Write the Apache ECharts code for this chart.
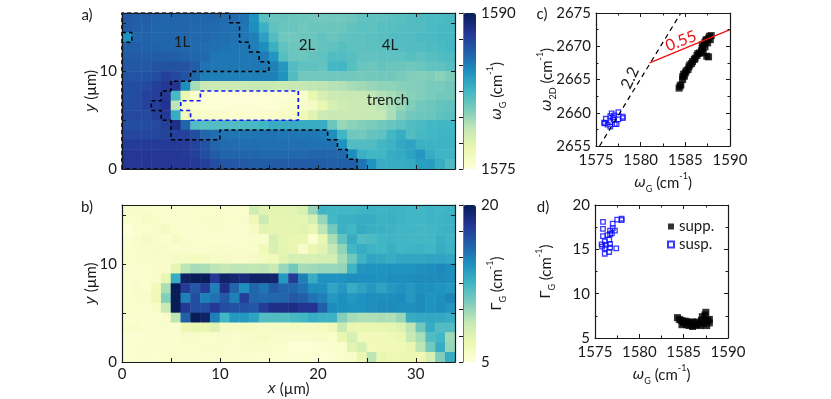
<!DOCTYPE html>
<html><head><meta charset="utf-8">
<script src="https://cdn.jsdelivr.net/npm/echarts@6/dist/echarts.min.js"></script>
<style>html,body{margin:0;padding:0;background:#fff}#c{width:831px;height:399px}</style>
</head><body><div id="c"></div>
<script>
// Panel a: omega_G (cm-1), rows from y=15 (top) down to y=0, 34 columns
const omegaRows = [
[1586.5,1586.3,1586.3,1586.1,1586,1586,1586,1586,1586,1586,1585.8,1585.8,1585.5,1584.2,1581.7,1581.3,1581.4,1581.3,1581.2,1581.1,1581,1581,1581,1581.2,1581.5,1581.5,1581.6,1581.7,1581.8,1582,1582.1,1582.2,1582.2,1582.3],
[1586.4,1586.2,1586.1,1586,1586,1586,1586,1585.9,1585.9,1585.8,1585.7,1585.6,1585.3,1584.5,1582.8,1581.6,1581.3,1581.3,1581,1581.3,1581.2,1581.3,1581.2,1581.5,1581.7,1581.6,1581.8,1581.8,1581.9,1582,1582,1582.2,1582.3,1582.3],
[1584.3,1586,1586.1,1586,1586,1586,1586,1585.9,1585.9,1585.7,1585.6,1585.5,1585.3,1585,1583.6,1581.9,1581.1,1581,1581.2,1581.2,1581.5,1581.3,1581.5,1581.6,1581.6,1581.7,1581.8,1582,1582,1582,1582.2,1582.2,1582.3,1582.3],
[1586.2,1586.2,1586.1,1586.1,1586,1586,1585.9,1585.8,1585.7,1585.6,1585.5,1585.4,1585.3,1585,1584.5,1582.8,1581.5,1581.2,1581.2,1581.2,1581.4,1581.6,1581.8,1581.6,1581.6,1581.7,1581.7,1581.8,1581.9,1582,1582,1582.1,1582.2,1582.4],
[1586.4,1586.4,1586.3,1586.4,1586.3,1586.2,1586.1,1586,1585.8,1585.4,1585.3,1585.3,1585.3,1585.3,1585.2,1584.1,1581.8,1581.3,1581.2,1581.4,1581.6,1582,1582,1581.8,1581.5,1581.5,1581.6,1581.6,1581.6,1581.8,1581.6,1581.8,1582,1582.1],
[1586.5,1586.5,1586.5,1586.7,1586.8,1586.8,1586.8,1586.3,1585.5,1585.3,1585.3,1585.3,1585.3,1585.3,1585.3,1585,1584,1582,1581.6,1581.6,1581.4,1582.4,1582.5,1581.8,1581.3,1581.2,1581.4,1581.3,1581.2,1581.1,1581.3,1581.5,1581.6,1581.8],
[1586.7,1586.7,1586.8,1587,1587.6,1587.2,1586.7,1586,1585.1,1585,1585,1585,1585,1585,1585,1585,1584.2,1582,1581,1581,1581,1581.1,1581,1581,1580.9,1581,1581,1581,1580.8,1580.6,1580.5,1580.6,1580.3,1580.7],
[1587,1587,1587.2,1587.6,1588,1588.2,1584.5,1579.6,1578.6,1578.5,1578.5,1578.5,1578.6,1578.7,1578.7,1578.6,1578.6,1578.7,1578.8,1578.9,1579,1579.2,1579.3,1579.6,1579.8,1580,1580.2,1580.2,1580.4,1580.5,1580.6,1580.8,1580.8,1581],
[1587,1587.1,1587.5,1587.7,1588,1582.3,1577,1575.6,1575.3,1575.3,1575.2,1575.2,1575.2,1575.2,1575.3,1575.3,1575.3,1575.4,1575.6,1577,1578,1578.5,1578.6,1578.7,1578.7,1578.9,1579.3,1579.6,1580,1580.4,1580.6,1580.8,1581,1581],
[1587,1587.1,1587.5,1587.7,1588.3,1579,1576,1575.5,1575.3,1575.3,1575.2,1575.2,1575.2,1575.2,1575.2,1575.3,1575.5,1575.6,1575.7,1576,1577,1578,1578.4,1578.6,1578.6,1578.7,1579,1579.5,1580,1580.6,1581,1581.2,1581.4,1581.5],
[1587.2,1587.2,1587.2,1587.7,1588,1583,1576.5,1576,1575.8,1575.7,1575.6,1575.5,1575.5,1575.5,1575.6,1575.7,1575.9,1576,1576.5,1577.5,1578.5,1578.7,1578.7,1578.6,1578.7,1578.7,1578.8,1579.5,1580.5,1581,1581.2,1581.3,1581.6,1581.7],
[1587,1587,1587,1587.2,1587.6,1588.5,1586,1582,1581.8,1581.9,1582,1582,1582.2,1582.3,1582.5,1583,1583,1583.1,1583,1583,1583,1581.2,1580,1580.3,1580.5,1580.8,1581,1581.3,1581.6,1582,1582.2,1582.4,1582.5,1582.5],
[1587.3,1587.3,1587.3,1587.3,1587.4,1587.5,1587.5,1587,1586,1585.7,1585.5,1585.4,1585.4,1585.4,1585.5,1585.5,1585.4,1585.4,1585.4,1585.4,1585.2,1584.5,1582.5,1581.1,1581,1581.4,1581.6,1582.5,1583,1582,1582.3,1582.5,1582.6,1582.6],
[1587.8,1587.8,1587.9,1587.9,1587.9,1587.9,1587.8,1587.4,1586.8,1586,1585.8,1585.7,1585.7,1585.7,1585.6,1585.6,1585.6,1585.6,1585.6,1585.5,1585.5,1585.5,1584.3,1582,1582,1582,1582.5,1582.7,1583.2,1583.5,1582.8,1582.7,1582.7,1582.6],
[1588,1588,1588,1588,1588,1588,1587.9,1587.6,1587,1586.4,1586,1586,1586,1586,1585.9,1585.9,1585.9,1585.9,1585.9,1586,1586,1586,1585.9,1584.5,1582.8,1582.5,1582.5,1583,1583.1,1583.5,1584,1583,1582.6,1582.6],
[1588,1588,1588,1588,1588,1588,1588,1587.9,1587.7,1587,1586.6,1586.5,1586.5,1586.4,1586.4,1586.4,1586.4,1586.4,1586.4,1586.4,1586.3,1586.2,1586.2,1586.2,1585.5,1584.2,1583,1583,1583,1583.1,1583.8,1583.8,1583,1582.1]
];
// Panel b: Gamma_G (cm-1), rows from y=15 (top) down to y=0
const gammaRows = [
[5.6,5.7,5.6,5.5,5.5,5.5,5.5,5.6,5.6,5.6,5.6,5.5,5.6,8.4,7.5,7.3,7.3,7.4,7.8,10,12.6,12.5,12.5,12.4,12.6,12.7,12.6,12.7,12.6,12.5,12.5,12.6,12.5,12.6],
[5.6,5.6,6,5.8,5.5,5.5,5.5,5.6,5.7,5.8,5.6,5.6,5.7,6.6,8.5,7.2,7.2,7.3,7.2,8,10,12.4,12.8,12.8,13,13,12.7,12.8,12.6,12.5,12.5,12.6,12.6,12.7],
[5,5.5,5.6,5.7,6.1,5.6,5.5,5.5,5.6,5.7,5.6,5.5,5.5,5.9,7.3,7.2,7.2,7.2,7.4,7,9,11,12.8,12.5,13.1,12.8,12.8,12.7,12.5,12.5,12.4,12.5,12.6,12.7],
[5.4,5.6,6,5.7,5.5,6,5.6,5.5,5.6,5.5,5.5,5.5,5.5,5.6,5.6,8,7.2,7,7,5.4,7,9.5,11.5,13,12,12.2,12.5,12.6,12.5,12.4,12.4,12.4,12.8,12.6],
[5.5,5.6,5.7,5.9,5.8,5.6,5.7,5.6,5.6,5.8,5.7,5.6,5.6,5.7,6.5,7.9,7.3,7.1,5.7,6.9,7.5,8.8,10.2,12.5,13,12.6,12.5,12.8,12.5,12.6,12.7,12.5,13,12.7],
[5.6,5.6,5.7,5.7,5.7,6,6,6.2,6.1,5.9,6,5.8,5.8,6,6.2,6.4,7.4,8,8,7.9,8,8.1,9.6,11,12.6,13.4,13.2,13,13.3,13.3,13.3,13.4,13.4,13.3],
[5.5,5.5,5.6,5.7,5.8,7.2,9,9.6,9.5,9,8.8,9,9,8.9,9,8.6,10,11,9.7,9.8,10,10,10.1,12.6,14.1,14.2,14.2,14.3,14.3,14.2,14.4,14.5,14.7,14.4],
[5.5,5.6,5.5,5.7,7,13,19.6,20,20,18,19.5,19.2,19,19.6,19.5,19.4,14,17.9,15,13,14.3,14.3,14.3,14.5,14.4,14.4,14.3,14.5,14.4,14.5,14.6,14.6,14.6,14.5],
[5.5,5.7,5.5,6.5,9.5,20,17.8,16.5,17.8,15,18.5,16,14.5,16,15.4,16.5,16,16,15.5,14.5,14.4,13.4,14,13,13.5,14,13.5,14,14.3,14,14.4,14.4,14.2,14],
[5.5,5.6,5.8,6.5,10.5,20,15,17,15,15.5,16.5,15,17.7,16,15.8,16,16,16.5,16.2,15.5,15,14,14.4,14,14.3,14.5,14.5,14.5,14.6,14,14.6,14.2,14.4,14.8],
[5.5,5.6,5.6,5.9,8.6,20,18,17,17,18,17,16.8,16.8,16.6,17.8,18.5,18.6,18.7,18.2,18.2,16.2,14.6,14.4,14.3,14.3,14.5,14.6,14.6,14.4,14.5,14.6,14.3,14.5,14.1],
[5.4,5.5,5.5,5.5,5.7,9,16.2,20,19.5,15,12.5,14,14,13.5,12,12,12,12.3,12.5,13,12.7,12.7,10.5,9.6,9.4,9.4,9.5,9.4,10,13,13.2,13.3,13.2,13],
[5.6,5.7,5.5,5.5,5.6,5.5,6.8,7,7,7.5,6,6,6.1,6,6,6,6,6.1,6,6,6.2,6.6,8.6,7,6.9,7,7,7.2,7.6,9,11,13,12,12],
[5.4,5.4,5.5,5.5,5.5,5.5,5.7,5.8,5.6,5.6,5.7,5.6,5.7,5.9,6,5.8,5.7,5.7,5.7,5.7,5.9,5.6,7,8,6.4,6.5,6.6,6.7,6.9,8.6,9.5,12,12.5,9.8],
[5.4,5.5,5.5,5.6,5.5,5.6,5.6,5.6,5.7,5.7,5.6,5.5,5.8,5.8,5.7,5.6,5.6,5.3,5.3,5.3,5.4,5.5,5.6,7.4,8,6.4,6.6,6.5,6.7,7,9,11,13,10],
[5.4,5.5,5.5,5.4,5.6,5.6,5.5,5.5,5.5,5.6,5.6,5.5,5.5,5.5,5.4,5.4,5.4,5.4,5.4,5.4,5.3,5.4,5.6,5.7,7,9,7,6.8,6.8,6.9,6.7,8,10.6,13]
];
const xTickLabels = [0,10,20,30];
const yTickLabels = [0,10];
const ylGnBu = ['#ffffd9','#edf8b1','#c7e9b4','#7fcdbb','#41b6c4','#1d91c0','#225ea8','#253494','#081d58'];
// dashed outlines in micrometres
const boundary1L = [[0,0],[0,16],[11,16],[11,15],[12,15],[12,13],[13,13],[13,12],[14,12],[14,11],[15,11],[15,10],[7,10],[7,9],[5,9],[5,8],[4,8],[4,7],[3,7],[3,6],[4,6],[4,5],[5,5],[5,3],[10,3],[10,4],[21,4],[21,3],[22,3],[22,2],[23,2],[23,1],[24,1],[24,0],[0,0]];
const boundaryIsland = [[0,14],[1,14],[1,13],[0,13]];
const boundaryTrench = [[8,8],[18,8],[18,5],[7,5],[7,6],[6,6],[6,7],[8,7],[8,8]];
// Panel c points: [omega_G, omega_2D]
const c_supp = [[1584.3,2663.7],[1584.4,2664],[1584.5,2664.2],[1584.7,2665],[1584.7,2665.4],[1584.8,2665.8],[1584.9,2665.5],[1585,2666],[1585.1,2666.3],[1585.3,2666.5],[1585.4,2666.9],[1585.5,2667.2],[1585.7,2667.4],[1585.8,2667.7],[1586,2668],[1586.1,2668.2],[1586.3,2668.6],[1586.4,2668.9],[1586.6,2669],[1586.8,2669.3],[1586.9,2669.7],[1586.9,2670.2],[1587.1,2670.3],[1587.2,2670.6],[1587.3,2670.9],[1587.4,2671],[1587.6,2671.2],[1587.7,2671.5],[1587.9,2671.6],[1587.8,2671],[1587.5,2670.5],[1587.2,2669.9],[1587,2669],[1587.4,2668.5],[1587.6,2668.4]];
const c_susp = [[1576,2658.4],[1576.1,2659.1],[1576.6,2659.5],[1576.75,2659.9],[1577.5,2660.1],[1578,2659.4],[1577.5,2659],[1577,2659],[1576.6,2658.6],[1577.1,2658.3],[1576.6,2657.9],[1577.3,2658.3],[1576.3,2658.2],[1576.9,2659.3],[1577.05,2659.6],[1575.9,2658.5],[1578,2659.2]];
const slope22 = [[1575.4,2655],[1584.5,2675]];
const slope055 = [[1581,2667.5],[1590,2672.5]];
// Panel d points: [omega_G, Gamma_G]
const d_supp = [[1584.3,7.3],[1584.5,7.1],[1584.7,7],[1584.9,6.9],[1585,6.7],[1584.8,6.5],[1585.2,6.9],[1585.3,6.5],[1585.5,6.8],[1585.6,6.4],[1585.8,6.7],[1586,6.3],[1586,6.8],[1586.2,6.4],[1586.4,6.8],[1586.5,6.5],[1586.7,6.7],[1586.9,6.4],[1587,7],[1587.1,7.4],[1587.2,6.6],[1587.4,7.6],[1587.5,7.9],[1587.6,6.4],[1587.7,7],[1587.9,6.7],[1587.9,7.1],[1587.5,7]];
const d_susp = [[1575.9,18.1],[1575.9,17.3],[1575.9,16.5],[1575.75,15.55],[1575.8,15.3],[1576.1,15.9],[1576.1,15.1],[1576.1,14.5],[1576.4,16.6],[1576.2,15.5],[1576.6,16.1],[1576.7,16.7],[1576.7,17.1],[1576.7,15.6],[1576.6,14.7],[1576.7,15.2],[1577,17.4],[1577,17.9],[1577.25,17.1],[1577.4,15.1],[1577.5,18.35],[1578,18.3],[1578,18.45],[1576.9,16.8]];

const FONT = "Lato, 'Open Sans', 'DejaVu Sans', sans-serif";
const INK = '#1a1a1a';
const FS = 15;
const rich = {
  t:{fontFamily:FONT,fontSize:FS,color:INK,lineHeight:22,verticalAlign:'middle'},
  i:{fontFamily:'"DejaVu Sans", sans-serif',fontStyle:'italic',fontSize:FS-1,color:INK,lineHeight:22,verticalAlign:'middle'},
  g:{fontFamily:'"DejaVu Sans", sans-serif',fontSize:FS-1,color:INK,lineHeight:22,verticalAlign:'middle'},
  s:{fontFamily:FONT,fontSize:9,color:INK,lineHeight:22,verticalAlign:'bottom'},
  u:{fontFamily:FONT,fontSize:9,color:INK,lineHeight:22,verticalAlign:'top'}
};
const omegaName = '{i|ω}{s|G}{t| (cm}{u|-1}{t|)}';
const o2dName = '{i|ω}{s|2D}{t| (cm}{u|-1}{t|)}';
const gammaName = '{g|Γ}{s|G}{t| (cm}{u|-1}{t|)}';
const yName = '{i|y}{t| (µm)}';
const xName = '{i|x}{t| (µm)}';

const gridBase = {outerBoundsMode:'none',containLabel:false};
const grids = [
 {left:122,top:13,width:333,height:156},
 {left:122,top:205,width:333,height:157},
 {left:463,top:13,width:13,height:156},
 {left:463,top:205,width:13,height:157},
 {left:596,top:13,width:134,height:133},
 {left:595,top:205,width:133,height:133}
].map(g=>Object.assign({},gridBase,g));
const xAxes = [], yAxes = [];
function frameAxis(store, o){ store.push(Object.assign({
  type:'value', z:10, nameMoveOverlap:false, axisLine:{show:true,onZero:false,lineStyle:{color:INK,width:1.2}},
  axisTick:{show:true,inside:true,length:4,lineStyle:{color:INK,width:1}},
  axisLabel:{show:false,fontFamily:FONT,fontSize:FS,color:INK,margin:5},
  splitLine:{show:false}, minorSplitLine:{show:false}
}, o)); return store.length-1; }
const cats = n => Array.from({length:n},(_,i)=>String(i));
function heatAxes(g, showX){
  xAxes.push({type:'category',gridIndex:g,data:cats(34),show:false});
  yAxes.push({type:'category',gridIndex:g,data:cats(16),show:false});
  const hx = xAxes.length-1, hy = yAxes.length-1;
  const vx = frameAxis(xAxes,{gridIndex:g,position:'bottom',min:0,max:34,interval:5,
    axisLabel:showX?{show:true,fontFamily:FONT,fontSize:FS,color:INK,margin:5,showMaxLabel:false,formatter:v=>xTickLabels.includes(v)?String(v):''}:{show:false},
    name:showX?xName:'',nameLocation:'middle',nameGap:16,nameTextStyle:{rich}});
  frameAxis(xAxes,{gridIndex:g,position:'top',min:0,max:34,interval:5});
  const vy = frameAxis(yAxes,{gridIndex:g,position:'left',min:0,max:16,interval:5,
    axisLabel:{show:true,fontFamily:FONT,fontSize:FS,color:INK,margin:5,showMaxLabel:false,formatter:v=>yTickLabels.includes(v)?String(v):''},
    name:yName,nameLocation:'middle',nameGap:20,nameTextStyle:{rich}});
  frameAxis(yAxes,{gridIndex:g,position:'right',min:0,max:16,interval:5});
  return {hx,hy,vx,vy};
}
function barAxes(g,min,max,interval,name){
  xAxes.push({type:'value',gridIndex:g,show:false,min:0,max:1});
  frameAxis(yAxes,{gridIndex:g,position:'right',min,max,interval,
    axisLine:{show:true,lineStyle:{color:'#777',width:1}},
    axisLabel:{show:true,fontFamily:FONT,fontSize:FS,color:INK,margin:5,formatter:v=>(v===min||v===max)?String(v):''},
    name,nameLocation:'middle',nameGap:10,nameRotate:90,nameTextStyle:{rich}});
}
function scatterAxes(g,xmin,xmax,ymin,ymax,ylabelName){
  const minor={show:true,splitNumber:2,length:2.5,lineStyle:{color:INK,width:1}};
  const bx=frameAxis(xAxes,{gridIndex:g,position:'bottom',min:xmin,max:xmax,interval:5,minorTick:minor,
    axisLabel:{show:true,fontFamily:FONT,fontSize:FS,color:INK,margin:7,formatter:v=>String(v)},
    name:omegaName,nameLocation:'middle',nameGap:26,nameTextStyle:{rich}});
  frameAxis(xAxes,{gridIndex:g,position:'top',min:xmin,max:xmax,interval:5,minorTick:minor});
  const ly=frameAxis(yAxes,{gridIndex:g,position:'left',min:ymin,max:ymax,interval:5,minorTick:minor,
    axisLabel:{show:true,fontFamily:FONT,fontSize:FS,color:INK,margin:5,formatter:v=>String(v)},
    name:ylabelName,nameLocation:'middle',nameGap:38,nameTextStyle:{rich}});
  frameAxis(yAxes,{gridIndex:g,position:'right',min:ymin,max:ymax,interval:5,minorTick:minor});
  return {bx,ly};
}
const A = heatAxes(0,false);
const B = heatAxes(1,true);
barAxes(2,1575,1590,2.5,omegaName);
barAxes(3,5,20,2.5,gammaName);
const C = scatterAxes(4,1575,1590,2655,2675,o2dName);
const D = scatterAxes(5,1575,1590,5,20,gammaName);

const toCells = rows => rows.flatMap((r,i)=>r.map((v,x)=>[x,15-i,v]));
const dashed = (data,ax,color,width)=>({type:'line',xAxisIndex:ax.vx,yAxisIndex:ax.vy,data,symbol:'none',z:6,silent:true,
  lineStyle:{color,width,type:[4,3]},animation:false});
const series = [
 {type:'heatmap',xAxisIndex:A.hx,yAxisIndex:A.hy,data:toCells(omegaRows),z:2,progressive:0,animation:false},
 {type:'heatmap',xAxisIndex:B.hx,yAxisIndex:B.hy,data:toCells(gammaRows),z:2,progressive:0,animation:false},
 dashed(boundary1L,A,'#000',1.5),
 dashed(boundaryIsland,A,'#000',1.5),
 dashed(boundaryTrench,A,'#1414ff',1.7),
 {type:'line',xAxisIndex:C.bx,yAxisIndex:C.ly,data:slope22,symbol:'none',lineStyle:{color:'#000',width:1.2,type:[5,4]},animation:false},
 {type:'line',xAxisIndex:C.bx,yAxisIndex:C.ly,data:slope055,symbol:'none',lineStyle:{color:'#ee1111',width:1.3},animation:false},
 {type:'scatter',name:'c-supp',xAxisIndex:C.bx,yAxisIndex:C.ly,data:c_supp,symbol:'rect',symbolSize:7,itemStyle:{color:'#000'},animation:false},
 {type:'scatter',name:'c-susp',xAxisIndex:C.bx,yAxisIndex:C.ly,data:c_susp,symbol:'rect',symbolSize:4.5,itemStyle:{color:'rgba(255,255,255,0)',borderColor:'#0a0aff',borderWidth:1.3},animation:false},
 {type:'scatter',name:'supp.',xAxisIndex:D.bx,yAxisIndex:D.ly,data:d_supp,symbol:'rect',symbolSize:7,itemStyle:{color:'#000'},animation:false},
 {type:'scatter',name:'susp.',xAxisIndex:D.bx,yAxisIndex:D.ly,data:d_susp,symbol:'rect',symbolSize:4.5,itemStyle:{color:'rgba(255,255,255,0)',borderColor:'#0a0aff',borderWidth:1.3},animation:false}
];
const txt=(x,y,s,extra)=>({type:'text',x,y,z:20,silent:true,style:Object.assign({text:s,fontFamily:FONT,fontSize:FS,fill:INK,align:'center',verticalAlign:'middle'},extra||{})});
const chart = echarts.init(document.getElementById('c'),null,{renderer:'canvas'});
chart.setOption({
  animation:false, backgroundColor:'#fff',
  grid:grids, xAxis:xAxes, yAxis:yAxes, series,
  visualMap:[
   {type:'continuous',seriesIndex:0,min:1575,max:1590,left:463,top:13,itemWidth:13,itemHeight:156,padding:0,text:null,calculable:false,realtime:false,inRange:{color:ylGnBu},textStyle:{fontSize:0}},
   {type:'continuous',seriesIndex:1,min:5,max:20,left:463,top:205,itemWidth:13,itemHeight:157,padding:0,text:null,calculable:false,realtime:false,inRange:{color:ylGnBu},textStyle:{fontSize:0}}
  ],
  legend:{data:['supp.','susp.'],orient:'vertical',left:667,top:219,itemWidth:6,itemHeight:6,itemGap:3,selectedMode:false,padding:0,textStyle:{fontFamily:FONT,fontSize:FS,color:INK}},
  graphic:{elements:[
    txt(87,15,'a)'),txt(87,207,'b)'),txt(542,14,'c)'),txt(543,207,'d)'),
    txt(182,42,'1L'),txt(307,45,'2L'),txt(390,45,'4L'),txt(388,100,'trench'),
    {type:'text',x:630,y:78,rotation:65*Math.PI/180,z:20,silent:true,style:{text:'2.2',fontFamily:FONT,fontSize:16,fill:INK,align:'center',verticalAlign:'middle'}},
    {type:'text',x:681,y:41,rotation:21*Math.PI/180,z:20,silent:true,style:{text:'0.55',fontFamily:FONT,fontSize:16,fill:'#ee1111',align:'center',verticalAlign:'middle'}}
  ]}
});
</script></body></html>
